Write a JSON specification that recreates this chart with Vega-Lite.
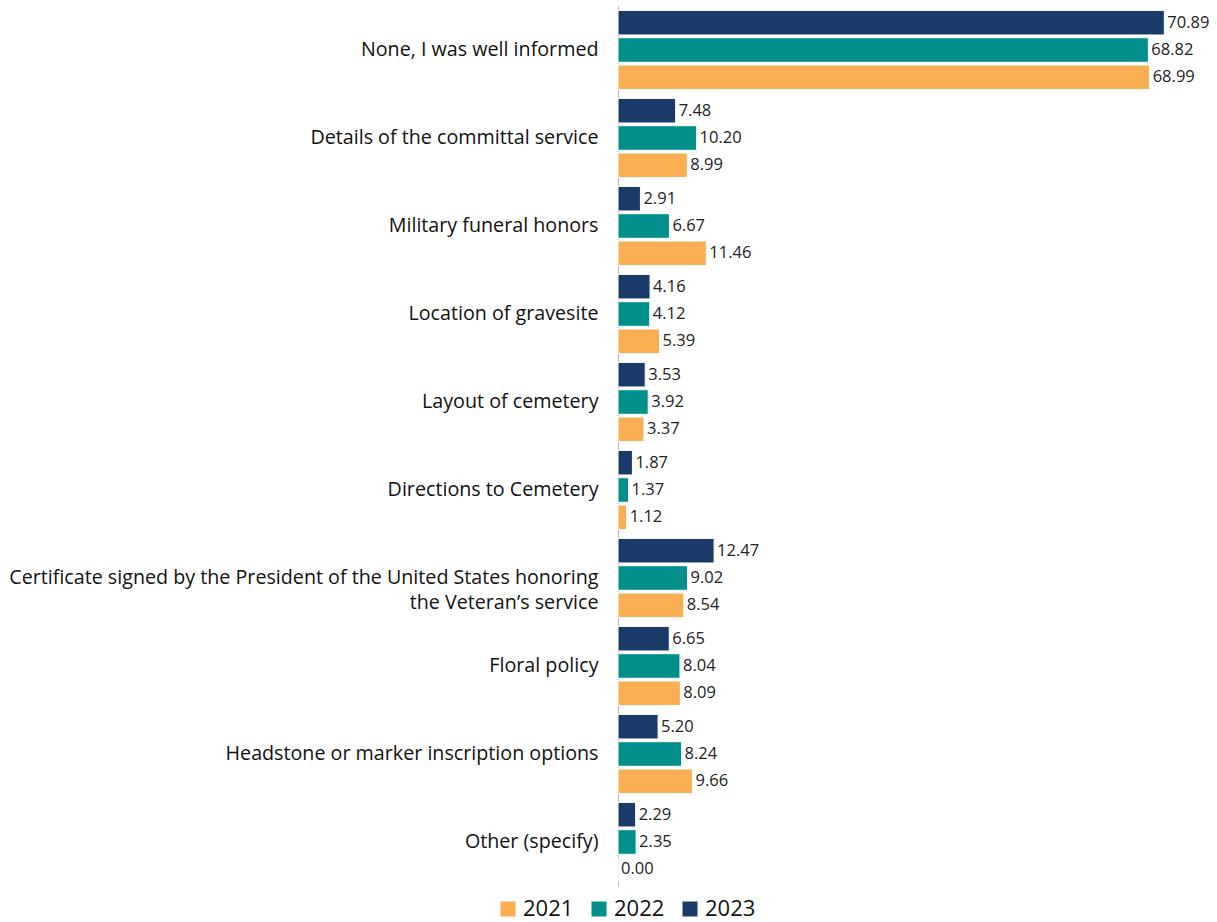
{
  "$schema": "https://vega.github.io/schema/vega-lite/v6.json",
  "width": 578,
  "height": 880,
  "padding": {"left": 8, "top": 6, "right": 20, "bottom": 3},
  "background": "white",
  "config": {"font": "Open Sans", "view": {"stroke": null}},
  "data": {"values": [
    {"cat": "None, I was well informed", "year": "2021", "v": 68.99},
    {"cat": "None, I was well informed", "year": "2022", "v": 68.82},
    {"cat": "None, I was well informed", "year": "2023", "v": 70.89},
    {"cat": "Details of the committal service", "year": "2021", "v": 8.99},
    {"cat": "Details of the committal service", "year": "2022", "v": 10.20},
    {"cat": "Details of the committal service", "year": "2023", "v": 7.48},
    {"cat": "Military funeral honors", "year": "2021", "v": 11.46},
    {"cat": "Military funeral honors", "year": "2022", "v": 6.67},
    {"cat": "Military funeral honors", "year": "2023", "v": 2.91},
    {"cat": "Location of gravesite", "year": "2021", "v": 5.39},
    {"cat": "Location of gravesite", "year": "2022", "v": 4.12},
    {"cat": "Location of gravesite", "year": "2023", "v": 4.16},
    {"cat": "Layout of cemetery", "year": "2021", "v": 3.37},
    {"cat": "Layout of cemetery", "year": "2022", "v": 3.92},
    {"cat": "Layout of cemetery", "year": "2023", "v": 3.53},
    {"cat": "Directions to Cemetery", "year": "2021", "v": 1.12},
    {"cat": "Directions to Cemetery", "year": "2022", "v": 1.37},
    {"cat": "Directions to Cemetery", "year": "2023", "v": 1.87},
    {"cat": "Certificate signed by the President of the United States honoring|the Veteran’s service", "year": "2021", "v": 8.54},
    {"cat": "Certificate signed by the President of the United States honoring|the Veteran’s service", "year": "2022", "v": 9.02},
    {"cat": "Certificate signed by the President of the United States honoring|the Veteran’s service", "year": "2023", "v": 12.47},
    {"cat": "Floral policy", "year": "2021", "v": 8.09},
    {"cat": "Floral policy", "year": "2022", "v": 8.04},
    {"cat": "Floral policy", "year": "2023", "v": 6.65},
    {"cat": "Headstone or marker inscription options", "year": "2021", "v": 9.66},
    {"cat": "Headstone or marker inscription options", "year": "2022", "v": 8.24},
    {"cat": "Headstone or marker inscription options", "year": "2023", "v": 5.20},
    {"cat": "Other (specify)", "year": "2021", "v": 0.00},
    {"cat": "Other (specify)", "year": "2022", "v": 2.35},
    {"cat": "Other (specify)", "year": "2023", "v": 2.29}
  ]},
  "encoding": {
    "y": {"field": "cat", "type": "nominal", "sort": null,
      "scale": {"paddingInner": 0.1, "paddingOuter": 0.05},
      "axis": {"title": null, "ticks": false, "domain": true, "domainColor": "#bbbbbb", "labelFontSize": 19.7, "labelColor": "#111111", "labelLimit": 800, "labelPadding": 20, "labelExpr": "split(datum.label, '|')", "labelLineHeight": 25}},
    "x": {"field": "v", "type": "quantitative", "scale": {"domain": [0, 75], "nice": false}, "axis": null},
    "yOffset": {"field": "year", "type": "nominal", "sort": "descending", "scale": {"paddingInner": 0.1}}
  },
  "layer": [
    {"mark": {"type": "bar", "stroke": "white", "strokeWidth": 1},
     "encoding": {"color": {"field": "year", "type": "nominal",
       "scale": {"domain": ["2021", "2022", "2023"], "range": ["#F9AF51", "#008F8A", "#1A3A6A"]},
       "legend": {"title": null, "orient": "none", "legendX": -121, "legendY": 892, "direction": "horizontal", "symbolType": "square", "symbolSize": 225, "labelFontSize": 22, "labelColor": "#111111", "symbolStrokeWidth": 0, "columnPadding": 14}}}},
    {"mark": {"type": "text", "align": "left", "dx": 3, "fontSize": 16.5, "color": "#222222"},
     "encoding": {"text": {"field": "v", "type": "quantitative", "format": ".2f"}}}
  ]
}
